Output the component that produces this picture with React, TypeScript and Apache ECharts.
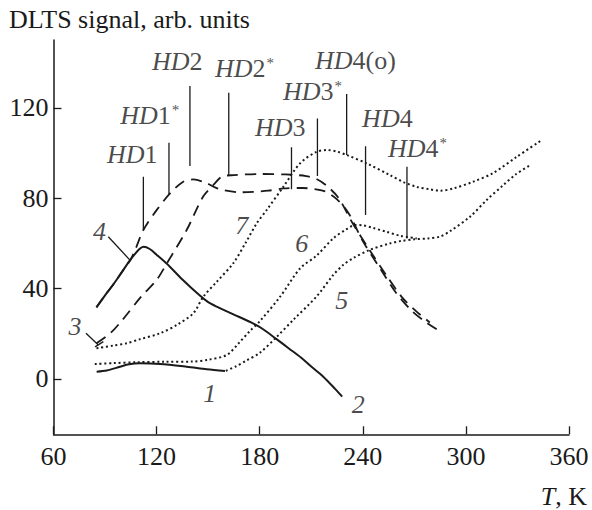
import React, { useEffect, useRef } from "react";
import * as echarts from "echarts";

// ---- Data (T in K, DLTS signal in arb. units) ----
// Curve 1 (solid, low)
const T1 = [85.1, 91, 98.7, 104, 110.3, 122, 137.5, 149.2, 159.8];
const V1 = [3.2, 3.7, 5.4, 6.5, 6.9, 6.6, 5.4, 4.3, 3.5];
// Curve 2 (solid, peak ~112 K)
const T2 = [85, 90, 95, 100, 105, 110, 112.5, 116, 120, 126, 135, 145, 150, 155, 165, 175, 182, 190, 197, 204, 210, 217, 224, 228];
const V2 = [31.7, 37, 42, 47.5, 53, 57.5, 58.5, 57.5, 55, 51, 44, 37, 34, 32, 28.5, 25, 22, 17.5, 13.5, 9.5, 5.5, 1, -4.5, -7.8];
// Curve 3 (dashed)
const T3 = [85, 93, 100, 111, 120, 126, 137.5, 147, 153, 158, 165, 180, 195, 207, 213, 219, 226, 234, 244, 254, 263, 271, 279];
const V3 = [15.8, 20.2, 26, 36.4, 43.8, 51.2, 65.9, 80.6, 85.8, 89.5, 90.2, 90.7, 90.5, 89.8, 88.5, 85.5, 80, 69, 57, 45.5, 36, 30, 25];
// Curve 4 (dashed)
const T4 = [85, 90, 95, 100, 105, 108, 112.3, 120, 127.8, 135.5, 141.4, 149.2, 154, 158.8, 168.5, 176.3, 185, 194, 205, 212, 218, 225, 232, 240, 250, 259, 268, 276, 283];
const V4 = [31.7, 37, 42, 47.5, 53, 58, 65.9, 74.7, 82.1, 87.3, 88.3, 86.6, 84.8, 83.6, 82.6, 82.8, 83.3, 84.3, 84.5, 84, 83, 79.5, 73, 61, 49, 38.5, 30.5, 25.5, 22];
// Curve 5 (dotted)
const T5 = [160.3, 166, 172.4, 180, 190, 200, 213, 222.8, 228.7, 234.5, 244, 255.8, 262, 270, 278, 285, 291, 302.4, 312.1, 321.8, 329, 337.3];
const V5 = [3.6, 5.5, 8.2, 11.5, 18.7, 26.5, 36.4, 46, 50.5, 53.5, 57.1, 60, 61, 61.8, 62.2, 63, 65.5, 71.8, 79.2, 85.8, 90.5, 94.6];
// Curve 6 (dotted)
const T6 = [84, 95, 108, 125, 141, 150, 160.8, 168, 174, 180, 192, 203.6, 213, 222.8, 230, 235.5, 240, 246, 253.9, 262, 271.4];
const V6 = [6.6, 7, 7.4, 7.6, 7.7, 8.5, 10.6, 16, 21, 25.5, 36.5, 49, 54.5, 62.2, 66, 68.1, 68, 66.8, 65.1, 63.3, 62.2];
// Curve 7 (dotted)
const T7 = [85, 95, 102.6, 110, 122, 132, 141.4, 147.2, 155, 164.6, 172, 178.3, 184, 193.7, 203.5, 213, 219, 225, 230.6, 242.3, 255.8, 264, 271.4, 279, 285, 292.7, 304.3, 316, 329.6, 343.5];
const V7 = [13.6, 14.8, 15.8, 17.5, 20.2, 24, 29.1, 36.4, 43, 51.2, 60.5, 68.9, 74.7, 85, 95.4, 100.5, 101.3, 100.6, 99.1, 95.4, 90.2, 87, 85, 83.9, 83.3, 84.3, 87.3, 91.2, 98.3, 105.4];

// HD marker lines: temperature, top value, bottom value
const markerNames = ["HD1", "HD1*", "HD2", "HD2*", "HD3", "HD3*", "HD4(o)", "HD4", "HD4*"];
const markerT = [112.3, 127.2, 139.4, 162, 198.5, 213.6, 230.6, 241.6, 265.7];
const markerTop = [89.5, 104.5, 129.6, 126.6, 102.5, 115.3, 126.1, 103, 93.9];
const markerBottom = [65.9, 81.4, 94.2, 90.2, 84, 89.8, 99.1, 72.5, 62.2];
// HD label anchor (left edge, text middle)
const labelT = [91.1, 98.8, 117.3, 154, 177.3, 193.6, 212.2, 239.6, 254.7];
const labelV = [99.2, 116.4, 140.3, 137.5, 111.1, 127.2, 141.1, 115.3, 102];

// Curve number labels
const curveLabels = ["1", "2", "3", "4", "5", "6", "7"];
const curveLabelT = [151, 237.4, 72.5, 86.7, 227.7, 204.4, 169.5];
const curveLabelV = [-6.3, -11.5, 23.4, 65.2, 34.9, 60, 68.1];

// Leader lines for labels 3 and 4
const leader3T = [78.9, 86.1];
const leader3V = [20.2, 15];
const leader3TickT = [84.2, 89];
const leader3TickV = [14.2, 16.5];
const leader4T = [91.9, 104.5];
const leader4V = [62.9, 52.6];

// Axes
const xTicks = [60, 120, 180, 240, 300, 360];
const yTicks = [0, 40, 80, 120];

const FONT = "'Liberation Serif', 'Times New Roman', serif";
const INK = "#1a1a1a";

const zip = (a: number[], b: number[]) => a.map((v, i) => [v, b[i]]);

function lineSeries(t: number[], v: number[], type: any, width: number, smooth: number | boolean = 0.3) {
  return {
    type: "line",
    data: zip(t, v),
    showSymbol: false,
    symbol: "none",
    smooth,
    silent: true,
    lineStyle: { color: INK, width, type, cap: "butt" },
    z: 3,
  };
}

function hdLabel(name: string) {
  // name like HD1*, HD4(o)
  const m = name.match(/^HD(\d)(.*)$/);
  const num = m ? m[1] : "";
  const rest = m ? m[2] : "";
  let s = "{i|HD}{n|" + num + "}";
  if (rest === "*") s += "{s|*}";
  else if (rest) s += "{n|" + rest + "}";
  return s;
}

export default function App() {
  const ref = useRef<HTMLDivElement>(null);
  useEffect(() => {
    if (!ref.current) return;
    const chart = echarts.init(ref.current, undefined, { renderer: "svg" });

    const series: any[] = [
      lineSeries(T1, V1, "solid", 2),
      lineSeries(T2, V2, "solid", 2),
      lineSeries(T3, V3, [11, 7], 1.8),
      lineSeries(T4, V4, [11, 7], 1.8),
      lineSeries(T5, V5, [2, 2.8], 2),
      lineSeries(T6, V6, [2, 2.8], 2),
      lineSeries(T7, V7, [2, 2.8], 2),
    ];

    markerT.forEach((t, i) => {
      series.push(lineSeries([t, t], [markerTop[i], markerBottom[i]], "solid", 1.3, false));
    });
    series.push(lineSeries(leader3T, leader3V, "solid", 1.3, false));
    series.push(lineSeries(leader3TickT, leader3TickV, "solid", 1.3, false));
    series.push(lineSeries(leader4T, leader4V, "solid", 1.3, false));

    // HD labels
    series.push({
      type: "scatter",
      symbolSize: 1,
      silent: true,
      itemStyle: { color: "rgba(0,0,0,0)" },
      data: labelT.map((t, i) => ({ value: [t, labelV[i]], name: markerNames[i] })),
      label: {
        show: true,
        position: "inside",
        align: "left",
        verticalAlign: "middle",
        formatter: (p: any) => hdLabel(p.name),
        rich: {
          i: { fontFamily: FONT, fontSize: 26, fontStyle: "italic", color: INK },
          n: { fontFamily: FONT, fontSize: 26, color: INK },
          s: { fontFamily: FONT, fontSize: 15, color: INK, verticalAlign: "top", padding: [0, 0, 0, 1] },
        },
      },
      z: 5,
    });

    // Curve number labels
    series.push({
      type: "scatter",
      symbolSize: 1,
      silent: true,
      itemStyle: { color: "rgba(0,0,0,0)" },
      data: curveLabelT.map((t, i) => ({ value: [t, curveLabelV[i]], name: curveLabels[i] })),
      label: {
        show: true,
        position: "inside",
        align: "center",
        verticalAlign: "middle",
        formatter: (p: any) => p.name,
        fontFamily: FONT,
        fontSize: 26,
        fontStyle: "italic",
        color: INK,
      },
      z: 5,
    });

    chart.setOption({
      animation: false,
      backgroundColor: "#ffffff",
      grid: { left: 53.5, right: 23, top: 40, bottom: 75.7, containLabel: false },
      xAxis: {
        type: "value",
        min: xTicks[0],
        max: xTicks[xTicks.length - 1],
        interval: 60,
        axisLine: { show: true, onZero: false, lineStyle: { color: INK, width: 1.5 } },
        axisTick: { show: true, inside: true, length: 8, lineStyle: { color: INK, width: 1.3 } },
        axisLabel: { fontFamily: FONT, fontSize: 26, color: INK, margin: 9, showMinLabel: true, showMaxLabel: true },
        splitLine: { show: false },
      },
      yAxis: {
        type: "value",
        min: -24.5,
        max: 150,
        axisLine: { show: true, onZero: false, lineStyle: { color: INK, width: 1.5 } },
        axisTick: { show: true, inside: true, length: 8, customValues: yTicks, lineStyle: { color: INK, width: 1.3 } },
        axisLabel: { fontFamily: FONT, fontSize: 26, color: INK, margin: 5, customValues: yTicks },
        splitLine: { show: false },
      },
      graphic: [
        {
          type: "text",
          left: 9,
          top: 6,
          style: { text: "DLTS signal, arb. units", font: "26px " + FONT, fill: INK },
        },
        {
          type: "text",
          right: 5,
          top: 483,
          style: {
            text: "{i|T}{n|, K}",
            rich: {
              i: { fontFamily: FONT, fontSize: 26, fontStyle: "italic", fill: INK } as any,
              n: { fontFamily: FONT, fontSize: 26, fill: INK } as any,
            },
          } as any,
        },
      ],
      series,
    });
    return () => chart.dispose();
  }, []);
  return (
    <div
      ref={ref}
      style={{ position: "absolute", left: 0, top: 0, width: 592, height: 510, background: "#fff" }}
    />
  );
}
